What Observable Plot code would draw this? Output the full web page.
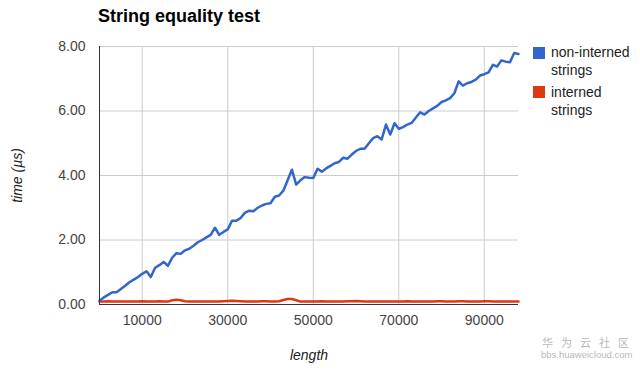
<!DOCTYPE html>
<html>
<head>
<meta charset="utf-8">
<script src="https://cdn.jsdelivr.net/npm/d3@7"></script>
<script src="https://cdn.jsdelivr.net/npm/@observablehq/plot@0.6"></script>
<style>
  html, body { margin: 0; padding: 0; background: #fff; }
  #wrap { position: relative; width: 640px; height: 372px; overflow: hidden; font-family: "Liberation Sans", Arial, sans-serif; }
  #wrap svg { position: absolute; left: 0; top: 0; }
  .abs { position: absolute; white-space: nowrap; }
  #title { left: 98px; top: 7px; font-size: 18px; line-height: 18px; font-weight: bold; color: #000; }
  .lg { font-size: 14px; line-height: 14px; color: #222; }
  .sw { width: 12px; height: 12px; }
  #wm1 { left: 542px; top: 337px; font-family: "Noto Sans CJK SC", sans-serif; font-size: 11px; line-height: 11px; color: #b8b8b8; letter-spacing: 8px; }
  #wm2 { left: 541px; top: 350px; font-size: 9.5px; line-height: 10px; color: #b8b8b8; }
  g[aria-label="x-axis label"] text, g[aria-label="y-axis label"] text { font-style: italic; fill: #222; }
</style>
</head>
<body>
<div id="wrap"></div>
<script>
// ---- data ----
const title = "String equality test";
const seriesNames = ["non-interned strings", "interned strings"];
const seriesColors = ["#3366cc", "#dc3912"];
const xTicks = [10000, 30000, 50000, 70000, 90000];
const yTicks = [0, 2, 4, 6, 8];
const lengths = [
  0,1000,2000,3000,4000,5000,6000,7000,8000,9000,
  10000,11000,12000,13000,14000,15000,16000,17000,18000,19000,
  20000,21000,22000,23000,24000,25000,26000,27000,28000,29000,
  30000,31000,32000,33000,34000,35000,36000,37000,38000,39000,
  40000,41000,42000,43000,44000,45000,46000,47000,48000,49000,
  50000,51000,52000,53000,54000,55000,56000,57000,58000,59000,
  60000,61000,62000,63000,64000,65000,66000,67000,68000,69000,
  70000,71000,72000,73000,74000,75000,76000,77000,78000,79000,
  80000,81000,82000,83000,84000,85000,86000,87000,88000,89000,
  90000,91000,92000,93000,94000,95000,96000,97000,98000
];
const nonInterned = [
  0.12,0.22,0.30,0.38,0.38,0.48,0.58,0.69,0.77,0.85,
  0.95,1.03,0.85,1.14,1.22,1.32,1.20,1.45,1.59,1.57,
  1.68,1.73,1.82,1.93,2.00,2.08,2.16,2.38,2.16,2.25,
  2.33,2.60,2.60,2.68,2.84,2.91,2.89,3.00,3.07,3.12,
  3.14,3.34,3.38,3.53,3.85,4.18,3.72,3.85,3.95,3.93,
  3.92,4.21,4.12,4.22,4.30,4.38,4.42,4.55,4.52,4.65,
  4.76,4.83,4.83,5.00,5.16,5.22,5.12,5.58,5.27,5.62,
  5.45,5.50,5.58,5.63,5.80,5.96,5.89,6.00,6.08,6.16,
  6.28,6.33,6.40,6.55,6.92,6.79,6.86,6.90,6.97,7.10,
  7.14,7.20,7.43,7.38,7.57,7.53,7.51,7.80,7.77
];
const interned = [
  0.09,0.09,0.10,0.09,0.09,0.09,0.09,0.09,0.09,0.09,
  0.10,0.09,0.09,0.09,0.10,0.09,0.09,0.13,0.15,0.13,
  0.10,0.09,0.09,0.09,0.09,0.09,0.09,0.09,0.09,0.10,
  0.11,0.12,0.11,0.10,0.09,0.09,0.09,0.09,0.10,0.10,
  0.09,0.09,0.10,0.14,0.17,0.17,0.13,0.09,0.09,0.09,
  0.09,0.09,0.10,0.09,0.09,0.09,0.09,0.09,0.10,0.10,
  0.11,0.10,0.09,0.09,0.09,0.09,0.09,0.09,0.09,0.09,
  0.09,0.09,0.10,0.09,0.09,0.09,0.09,0.09,0.09,0.10,
  0.10,0.09,0.09,0.09,0.10,0.10,0.09,0.09,0.09,0.09,
  0.10,0.10,0.09,0.09,0.09,0.09,0.09,0.09,0.09
];

// ---- chart ----
const chart = Plot.plot({
  width: 640,
  height: 372,
  marginLeft: 99,
  marginRight: 122,
  marginTop: 46,
  marginBottom: 68,
  style: { fontFamily: "'Liberation Sans', Arial, sans-serif", fontSize: "14px", color: "#444", background: "transparent", overflow: "visible" },
  x: { domain: [0, 98000], ticks: xTicks, tickFormat: d => String(d), tickSize: 0, tickPadding: 11, label: "length", labelAnchor: "center", labelArrow: "none", labelOffset: 55 },
  y: { domain: [0, 8], ticks: yTicks, tickFormat: d3.format(".2f"), tickSize: 0, tickPadding: 14, label: "time (µs)", labelAnchor: "center", labelArrow: "none", labelOffset: 87 },
  marks: [
    Plot.gridX(xTicks, { stroke: "#cccccc", strokeOpacity: 1 }),
    Plot.gridY(yTicks, { stroke: "#cccccc", strokeOpacity: 1 }),
    Plot.lineY(interned, { x: lengths, stroke: seriesColors[1], strokeWidth: 2.5 }),
    Plot.lineY(nonInterned, { x: lengths, stroke: seriesColors[0], strokeWidth: 2.5 }),
    Plot.ruleX([0], { stroke: "#333" }),
    Plot.ruleY([0], { stroke: "#333" })
  ]
});

const wrap = document.getElementById("wrap");
wrap.appendChild(chart);

function addDiv(id, cls, text, style) {
  const d = document.createElement("div");
  if (id) d.id = id;
  d.className = "abs " + (cls || "");
  if (text) d.textContent = text;
  if (style) Object.assign(d.style, style);
  wrap.appendChild(d);
  return d;
}
addDiv("title", "", title);
// legend
const lgTops = [[47, 45, 63], [86, 85, 103]];
seriesNames.forEach((name, i) => {
  const words = name.split(" ");
  addDiv(null, "sw", null, { left: "533px", top: lgTops[i][0] + "px", background: seriesColors[i] });
  addDiv(null, "lg", words[0], { left: "551px", top: lgTops[i][1] + "px" });
  addDiv(null, "lg", words[1], { left: "551px", top: lgTops[i][2] + "px" });
});
addDiv("wm1", "", "华为云社区");
addDiv("wm2", "", "bbs.huaweicloud.com");
</script>
</body>
</html>
